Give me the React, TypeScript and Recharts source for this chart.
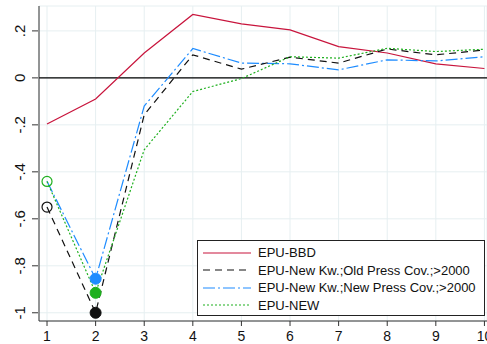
import {
  CartesianGrid,
  Line,
  LineChart,
  ReferenceLine,
  XAxis,
  YAxis,
} from "recharts";

const periods = [1, 2, 3, 4, 5, 6, 7, 8, 9, 10];
const epuBbd = [-0.196, -0.09, 0.106, 0.27, 0.23, 0.204, 0.133, 0.106, 0.06, 0.04];
const epuOldPress = [-0.55, -1.0, -0.157, 0.098, 0.037, 0.088, 0.063, 0.123, 0.098, 0.119];
const epuNewPress = [-0.44, -0.855, -0.12, 0.125, 0.063, 0.06, 0.034, 0.077, 0.072, 0.09];
const epuNew = [-0.441, -0.915, -0.306, -0.058, -0.003, 0.09, 0.084, 0.126, 0.112, 0.122];

const yTicks = [0.2, 0, -0.2, -0.4, -0.6, -0.8, -1];
const yTickLabels = [".2", "0", "-.2", "-.4", "-.6", "-.8", "-1"];

const data = periods.map((p, i) => ({
  period: p,
  bbd: epuBbd[i],
  oldPress: epuOldPress[i],
  newPress: epuNewPress[i],
  epuNew: epuNew[i],
}));

const FONT = "'Liberation Sans', Arial, sans-serif";
const RED = "#c8143c";
const BLUE = "#1e8cff";
const GREEN = "#1fb01f";
const GRID = "#e6eff1";

function YTick(props: any) {
  const { x, payload } = props;
  // recharts nudges edge ticks; use the true scale coordinate
  const y = payload.coordinate;
  const idx = yTicks.indexOf(payload.value);
  const label = idx >= 0 ? yTickLabels[idx] : String(payload.value);
  return (
    <g>
      <line x1={x + 1} x2={x + 7} y1={y} y2={y} stroke="#333" strokeWidth={1} />
      <text
        x={0}
        y={0}
        transform={`translate(${x - 12}, ${y}) rotate(-90)`}
        textAnchor="middle"
        dominantBaseline="central"
        fontSize={15}
        fontFamily={FONT}
        fill="#111"
      >
        {label}
      </text>
    </g>
  );
}

function XTick(props: any) {
  const { y, payload } = props;
  const x = payload.coordinate;
  return (
    <g>
      <line x1={x} x2={x} y1={y - 8} y2={y - 3} stroke="#333" strokeWidth={1} />
      <text
        x={x}
        y={y + 7}
        textAnchor="middle"
        dominantBaseline="central"
        fontSize={14}
        fontFamily={FONT}
        fill="#111"
      >
        {payload.value}
      </text>
    </g>
  );
}

function makeDot(color: string, hollowIdx: number[], filledIdx: number[]) {
  return (props: any) => {
    const { cx, cy, index } = props;
    if (filledIdx.includes(index)) {
      return <circle key={index} cx={cx} cy={cy} r={5.5} fill={color} stroke={color} />;
    }
    if (hollowIdx.includes(index)) {
      return <circle key={index} cx={cx} cy={cy} r={5} fill="none" stroke={color} strokeWidth={1.2} />;
    }
    return <g key={index} />;
  };
}

const legendItems = [
  { label: "EPU-BBD", color: RED, dash: undefined as string | undefined },
  { label: "EPU-New Kw.;Old Press Cov.;>2000", color: "#111", dash: "7 5" },
  { label: "EPU-New Kw.;New Press Cov.;>2000", color: BLUE, dash: "12 3 2 3" },
  { label: "EPU-NEW", color: GREEN, dash: "2 2" },
];

export default function App() {
  return (
    <div style={{ position: "absolute", left: 0, top: 0, width: 487, height: 344, background: "#fff" }}>
      <LineChart
        width={487}
        height={344}
        data={data}
        margin={{ top: 6, right: 0, bottom: 0, left: 0 }}
      >
        <CartesianGrid stroke={GRID} strokeWidth={1} />
        <XAxis
          dataKey="period"
          type="number"
          domain={[0.835, 10.053]}
          ticks={periods}
          allowDataOverflow
          tick={<XTick />}
          tickLine={false}
          axisLine={{ stroke: "#333" }}
          height={23}
        />
        <YAxis
          type="number"
          domain={[-1.035, 0.306]}
          ticks={yTicks}
          allowDataOverflow
          tick={<YTick />}
          tickLine={false}
          axisLine={{ stroke: "#333" }}
          width={39}
        />
        <ReferenceLine y={0} stroke="#000" strokeWidth={1.3} />
        <Line
          dataKey="bbd"
          stroke={RED}
          strokeWidth={1.2}
          dot={false}
          isAnimationActive={false}
        />
        <Line
          dataKey="newPress"
          stroke={BLUE}
          strokeWidth={1.2}
          strokeDasharray="12 3 2 3"
          dot={makeDot(BLUE, [], [1])}
          isAnimationActive={false}
        />
        <Line
          dataKey="oldPress"
          stroke="#111"
          strokeWidth={1.2}
          strokeDasharray="7 5"
          dot={makeDot("#111", [0], [1])}
          isAnimationActive={false}
        />
        <Line
          dataKey="epuNew"
          stroke={GREEN}
          strokeWidth={1.2}
          strokeDasharray="2 2"
          dot={makeDot(GREEN, [0], [1])}
          isAnimationActive={false}
        />
      </LineChart>
      <div
        style={{
          position: "absolute",
          left: 197,
          top: 240,
          width: 288,
          height: 76,
          border: "1px solid #222",
          background: "#fff",
          fontFamily: FONT,
          fontSize: 13,
          color: "#111",
          boxSizing: "border-box",
          paddingTop: 3,
        }}
      >
        {legendItems.map((it) => (
          <div key={it.label} style={{ display: "flex", alignItems: "center", height: 17.5 }}>
            <svg width={55} height={10} style={{ marginLeft: 5, flexShrink: 0 }}>
              <line
                x1={0}
                x2={48}
                y1={5}
                y2={5}
                stroke={it.color}
                strokeWidth={1.2}
                strokeDasharray={it.dash}
              />
            </svg>
            <span style={{ whiteSpace: "nowrap" }}>{it.label}</span>
          </div>
        ))}
      </div>
    </div>
  );
}
